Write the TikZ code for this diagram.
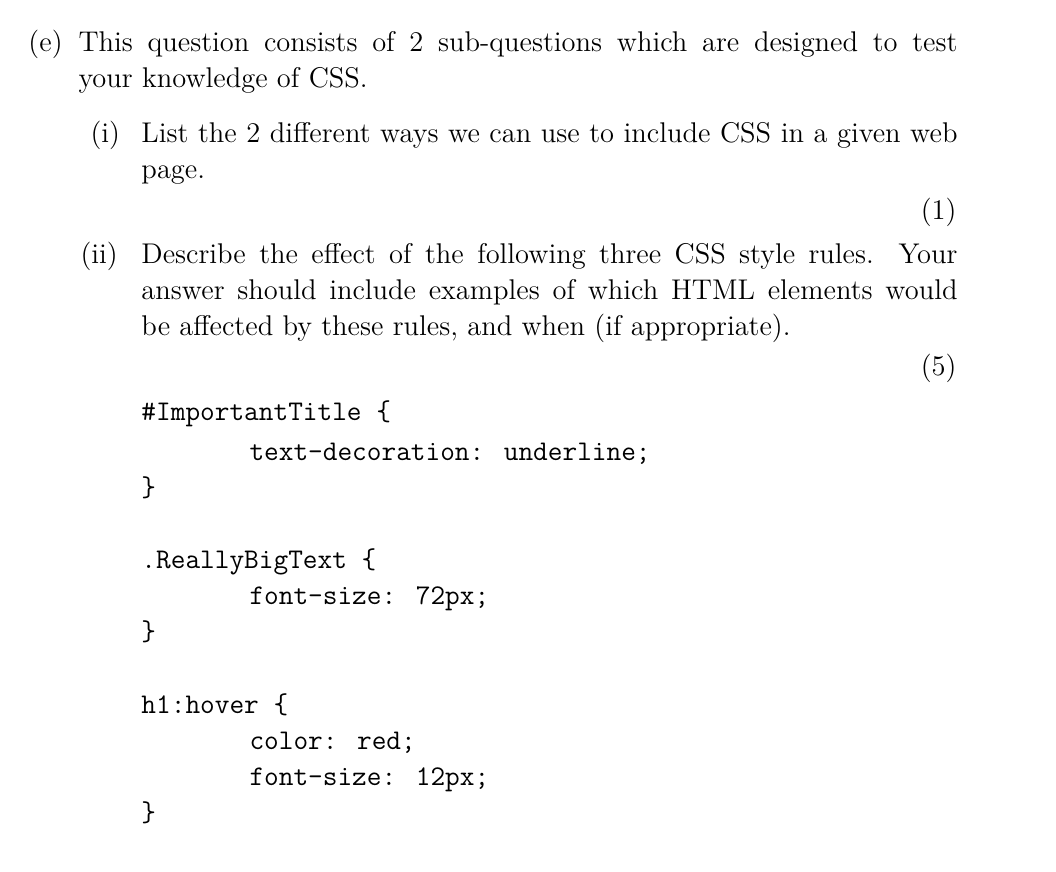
\documentclass[tikz,border=0pt]{standalone}
\begin{document}
\begin{tikzpicture}[x=0.4pt,y=-0.4pt,
  ln/.style={anchor=base west,inner sep=0pt,font=\fontsize{11.4}{14}\selectfont},
  rn/.style={anchor=base east,inner sep=0pt,font=\fontsize{11.4}{14}\selectfont},
  cd/.style={anchor=base west,inner sep=0pt,font=\fontsize{11.4}{14}\selectfont\ttfamily}]
\useasboundingbox (0,0) rectangle (1056,872);
\node[ln] (e) at (28,52) {(e)};
\node[ln] (l1) at (78,52) {\makebox[351.6pt][s]{This question consists of 2 sub-questions which are designed to test}};
\node[ln] (l2) at (78,88) {your knowledge of CSS.};
\node[ln] (i) at (90,143) {(i)};
\node[ln] (i1) at (141,143) {\makebox[326.4pt][s]{List the 2 different ways we can use to include CSS in a given web}};
\node[ln] (i2) at (141,179) {page.};
\node[rn] (m1) at (957,220) {(1)};
\node[ln] (ii) at (80,264) {(ii)};
\node[ln] (ii1) at (141,264) {\makebox[326.4pt][s]{Describe the effect of the following three CSS style rules. Your}};
\node[ln] (ii2) at (141,300) {\makebox[326.4pt][s]{answer should include examples of which HTML elements would}};
\node[ln] (ii3) at (141,336) {be affected by these rules, and when (if appropriate).};
\node[rn] (m5) at (957,376) {(5)};
\node[cd] (c1) at (141,421) {\#ImportantTitle \{};
\node[cd] (c2) at (249,461) {text-decoration: underline;};
\node[cd] (c3) at (141,497) {\}};
\node[cd] (c4) at (141,569) {.ReallyBigText \{};
\node[cd] (c5) at (249,605) {font-size: 72px;};
\node[cd] (c6) at (141,641) {\}};
\node[cd] (c7) at (141,714) {h1:hover \{};
\node[cd] (c8) at (249,750) {color: red;};
\node[cd] (c9) at (249,786) {font-size: 12px;};
\node[cd] (c10) at (141,822) {\}};
\end{tikzpicture}
\end{document}
